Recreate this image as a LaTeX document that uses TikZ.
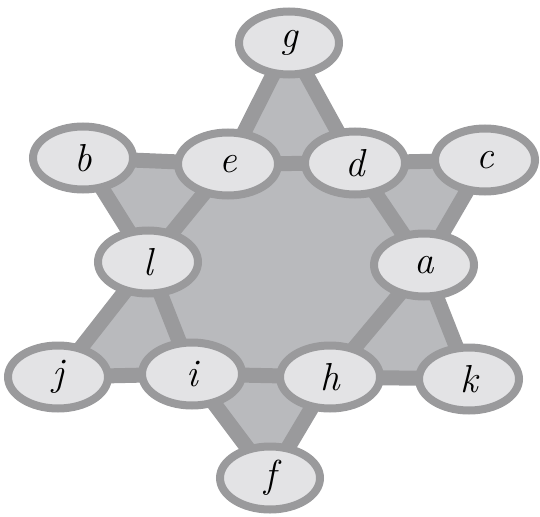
\documentclass[tikz,border=0pt]{standalone}
\usepackage{fontspec}
\usetikzlibrary{shapes.geometric}
\pgfdeclarelayer{background}
\pgfsetlayers{background,main}
\definecolor{edgegray}{HTML}{9A9A9C}
\definecolor{facegray}{HTML}{B9BABD}
\definecolor{nodefill}{HTML}{E3E3E5}
\begin{document}
\begin{tikzpicture}[x=1pt,y=-1pt,
  vert/.style={ellipse,draw=edgegray,fill=nodefill,line width=8pt,
    minimum width=100pt,minimum height=63pt,inner sep=0pt,
    font=\fontsize{39}{45}\selectfont\itshape},
  bar/.style={draw=edgegray,line width=15pt,line cap=round},
  face/.style={fill=facegray}]
\useasboundingbox (0,0) rectangle (540,516);
\node[vert] (g) at (289,43) {g};
\node[vert] (b) at (83,158) {b};
\node[vert] (e) at (228,164) {e};
\node[vert] (d) at (355,163) {d};
\node[vert] (c) at (485,160) {c};
\node[vert] (l) at (148,262) {l};
\node[vert] (a) at (424,265) {a};
\node[vert] (j) at (58,377) {j};
\node[vert] (i) at (192,374) {i};
\node[vert] (h) at (330,377) {h};
\node[vert] (k) at (469,379) {k};
\node[vert] (f) at (270,478) {f};
\begin{pgfonlayer}{background}
\fill[face] (e.center) -- (d.center) -- (a.center) -- (h.center) -- (i.center) -- (l.center) -- cycle;
\fill[face] (g.center) -- (e.center) -- (d.center) -- cycle;
\fill[face] (d.center) -- (c.center) -- (a.center) -- cycle;
\fill[face] (a.center) -- (k.center) -- (h.center) -- cycle;
\fill[face] (h.center) -- (f.center) -- (i.center) -- cycle;
\fill[face] (i.center) -- (j.center) -- (l.center) -- cycle;
\fill[face] (l.center) -- (b.center) -- (e.center) -- cycle;
\draw[bar] (g.center) -- (e.center);
\draw[bar] (g.center) -- (d.center);
\draw[bar] (b.center) -- (e.center);
\draw[bar] (e.center) -- (d.center);
\draw[bar] (d.center) -- (c.center);
\draw[bar] (b.center) -- (l.center);
\draw[bar] (e.center) -- (l.center);
\draw[bar] (d.center) -- (a.center);
\draw[bar] (c.center) -- (a.center);
\draw[bar] (l.center) -- (j.center);
\draw[bar] (l.center) -- (i.center);
\draw[bar] (a.center) -- (h.center);
\draw[bar] (a.center) -- (k.center);
\draw[bar] (j.center) -- (i.center);
\draw[bar] (i.center) -- (h.center);
\draw[bar] (h.center) -- (k.center);
\draw[bar] (i.center) -- (f.center);
\draw[bar] (h.center) -- (f.center);
\end{pgfonlayer}
\end{tikzpicture}
\end{document}
